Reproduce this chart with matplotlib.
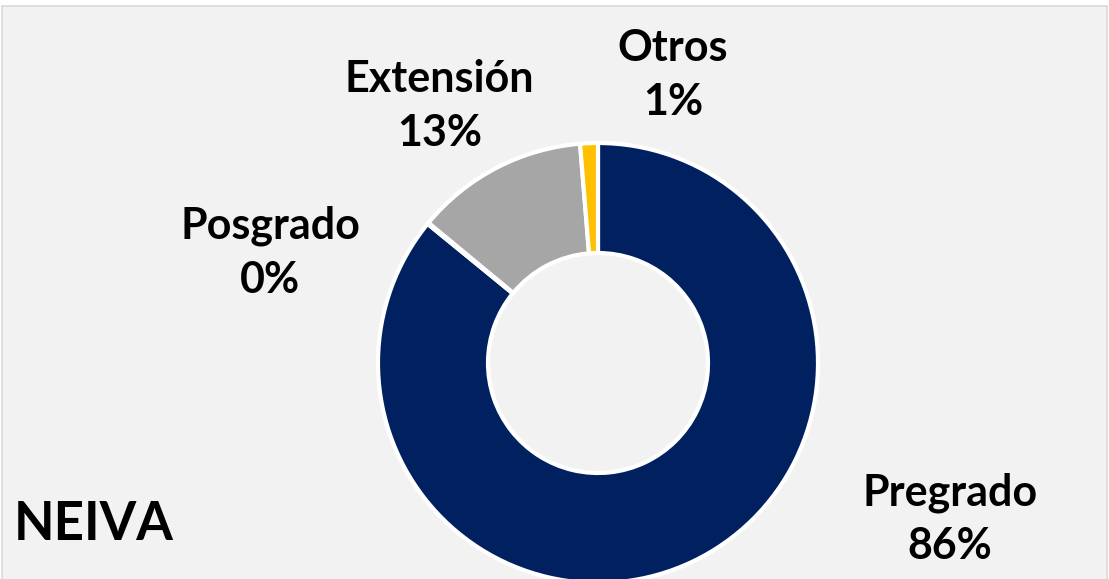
import matplotlib.pyplot as plt
from matplotlib.patches import Rectangle

# data (percent of total)
categories = ['Pregrado', 'Posgrado', 'Extensión', 'Otros']
values = [85.9, 0.1, 12.7, 1.3]
colors = ['#002060', '#FFFFFF', '#A6A6A6', '#FFC000']
label_pos = [(1.60, -0.71), (-1.49, 0.50), (-0.72, 1.17), (0.34, 1.31)]

W, H = 1109, 579
fig = plt.figure(figsize=(W / 100, H / 100), dpi=100)
fig.patch.set_facecolor('white')

# chart area background with thin border
fig.patches.append(Rectangle((2 / W, -0.01), (W - 4) / W, (H - 6) / H + 0.01,
                             transform=fig.transFigure, facecolor='#F2F2F2',
                             edgecolor='#D9D9D9', linewidth=1.2, zorder=-5))

cx, cy, r = 598, 363, 220
ax = fig.add_axes([(cx - r) / W, (H - cy - r) / H, 2 * r / W, 2 * r / H])
ax.pie(values, colors=colors, startangle=90, counterclock=False, radius=1,
       wedgeprops=dict(width=0.5, edgecolor='white', linewidth=3))
ax.set_xlim(-1, 1)
ax.set_ylim(-1, 1)
ax.set_aspect('auto')
ax.axis('off')

total = sum(values)
for name, v, (x, y) in zip(categories, values, label_pos):
    ax.text(x, y, f"{name}\n{round(v / total * 100):.0f}%", ha='center', va='center',
            fontsize=31, fontweight='bold', family='Lato', linespacing=1.42,
            color='black')

fig.text(14 / W, 1 - 524 / H, 'NEIVA', ha='left', va='center', fontsize=38,
         fontweight='bold', family='Lato', color='black')

fig.savefig('out.png', dpi=100, facecolor=fig.get_facecolor())
